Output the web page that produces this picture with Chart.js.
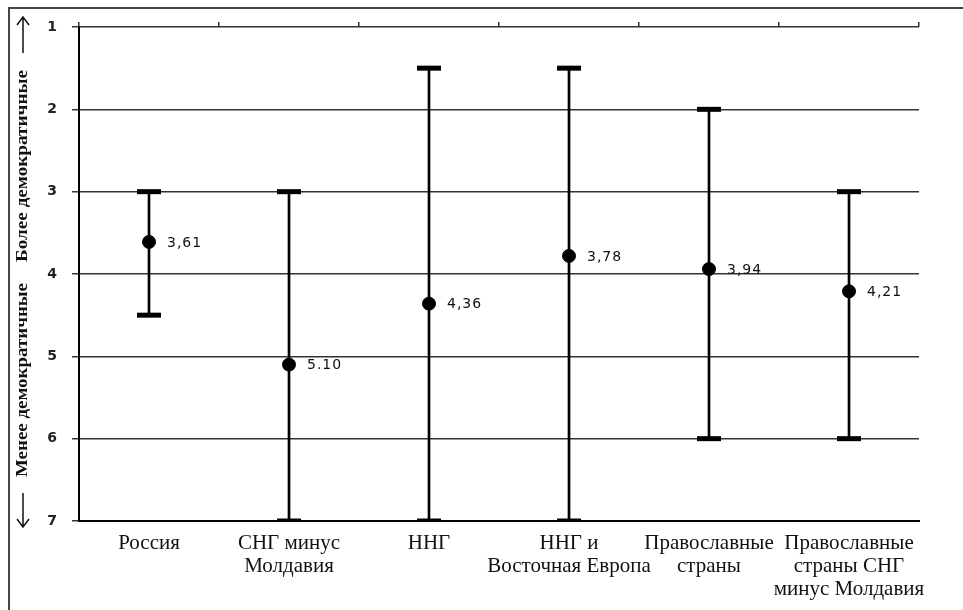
<!DOCTYPE html>
<html>
<head>
<meta charset="utf-8">
<script src="https://cdn.jsdelivr.net/npm/chart.js@4"></script>
<style>
  html, body { margin: 0; padding: 0; background: #fff; }
  #wrap { position: relative; width: 963px; height: 610px; }
</style>
</head>
<body>
<div id="wrap"><canvas id="democracyChart" width="963" height="610"></canvas></div>
<script>
const categories = [
  ['Россия'],
  ['СНГ минус', 'Молдавия'],
  ['ННГ'],
  ['ННГ и', 'Восточная Европа'],
  ['Православные', 'страны'],
  ['Православные', 'страны СНГ', 'минус Молдавия']
];
const means = [3.61, 5.10, 4.36, 3.78, 3.94, 4.21];
const lows = [3, 3, 1.5, 1.5, 2, 3];
const highs = [4.5, 7, 7, 7, 6, 6];
const valueLabels = ['3,61', '5.10', '4,36', '3,78', '3,94', '4,21'];
const yMin = 1, yMax = 7;

// value labels next to the points + the vertical axis captions
const annotate = {
  id: 'annotate',
  beforeDraw(chart) {
    const ctx = chart.ctx;
    ctx.save();
    ctx.strokeStyle = '#444';
    ctx.lineWidth = 2;
    ctx.beginPath();
    ctx.moveTo(9, 610);
    ctx.lineTo(9, 8);
    ctx.lineTo(963, 8);
    ctx.stroke();
    ctx.restore();
  },
  afterDatasetsDraw(chart) {
    const { ctx, scales: { x, y } } = chart;
    ctx.save();
    ctx.font = '14px "DejaVu Sans"';
    ctx.letterSpacing = '1px';
    ctx.fillStyle = '#111';
    ctx.textBaseline = 'middle';
    means.forEach((m, i) => {
      ctx.fillText(valueLabels[i], x.getPixelForValue(i) + 18, y.getPixelForValue(m) + 1);
    });
    ctx.restore();
  },
  afterDraw(chart) {
    const ctx = chart.ctx;
    const vText = (text, cx, cy, len) => {
      ctx.save();
      ctx.translate(cx, cy);
      ctx.rotate(-Math.PI / 2);
      ctx.font = 'bold 17px "Liberation Serif"';
      ctx.fillStyle = '#111';
      ctx.textAlign = 'center';
      ctx.textBaseline = 'middle';
      const w = ctx.measureText(text).width;
      ctx.scale(len / w, 1);
      ctx.fillText(text, 0, 0);
      ctx.restore();
    };
    vText('Более демократичные', 23, 166, 192);
    vText('Менее демократичные', 23, 380, 194);

    ctx.save();
    ctx.strokeStyle = '#111';
    ctx.lineWidth = 1.5;
    ctx.beginPath();
    ctx.moveTo(23, 53); ctx.lineTo(23, 17);
    ctx.moveTo(17, 25); ctx.lineTo(23, 17); ctx.lineTo(29, 25);
    ctx.moveTo(23, 493); ctx.lineTo(23, 527);
    ctx.moveTo(17, 519); ctx.lineTo(23, 527); ctx.lineTo(29, 519);
    ctx.stroke();
    ctx.restore();
  }
};

const capStyle = {
  type: 'line',
  showLine: false,
  pointStyle: 'line',
  pointRadius: 12,
  pointBorderWidth: 5,
  borderColor: '#000',
  backgroundColor: '#000'
};

new Chart(document.getElementById('democracyChart'), {
  type: 'bar',
  data: {
    labels: categories,
    datasets: [
      {
        type: 'line',
        data: means,
        showLine: false,
        pointRadius: 6.5,
        pointBackgroundColor: '#000',
        pointBorderColor: '#000',
        order: 0
      },
      Object.assign({ data: lows, order: 1 }, capStyle),
      Object.assign({ data: highs, order: 1 }, capStyle),
      {
        data: lows.map((l, i) => [l, highs[i]]),
        backgroundColor: '#000',
        barThickness: 2,
        order: 2
      }
    ]
  },
  options: {
    responsive: false,
    animation: false,
    layout: { padding: { left: 0, top: 0, right: 44, bottom: 0 } },
    plugins: { legend: { display: false }, tooltip: { enabled: false } },
    scales: {
      x: {
        type: 'category',
        position: 'bottom',
        offset: true,
        grid: { display: false },
        border: { display: true, color: '#000', width: 2 },
        ticks: {
          autoSkip: false,
          maxRotation: 0,
          minRotation: 0,
          padding: 3,
          color: '#111',
          font: { family: '"Liberation Serif"', size: 21, lineHeight: 1.1 }
        },
        afterFit(s) { s.height = 89; }
      },
      xTop: {
        type: 'category',
        position: 'top',
        labels: categories,
        offset: true,
        grid: { offset: true, drawOnChartArea: false, tickLength: 5, color: '#333', lineWidth: 1.5 },
        border: { display: false },
        ticks: { display: false },
        afterFit(s) { s.height = 27; }
      },
      y: {
        reverse: true,
        min: yMin,
        max: yMax,
        grid: { color: '#333', lineWidth: 1.5, tickLength: 7 },
        border: { color: '#000', width: 2 },
        ticks: {
          stepSize: 1,
          padding: 15,
          color: '#222',
          font: { family: '"DejaVu Sans"', size: 14, weight: 'bold' }
        },
        afterFit(s) { s.width = 79; }
      }
    }
  },
  plugins: [annotate]
});
</script>
</body>
</html>
